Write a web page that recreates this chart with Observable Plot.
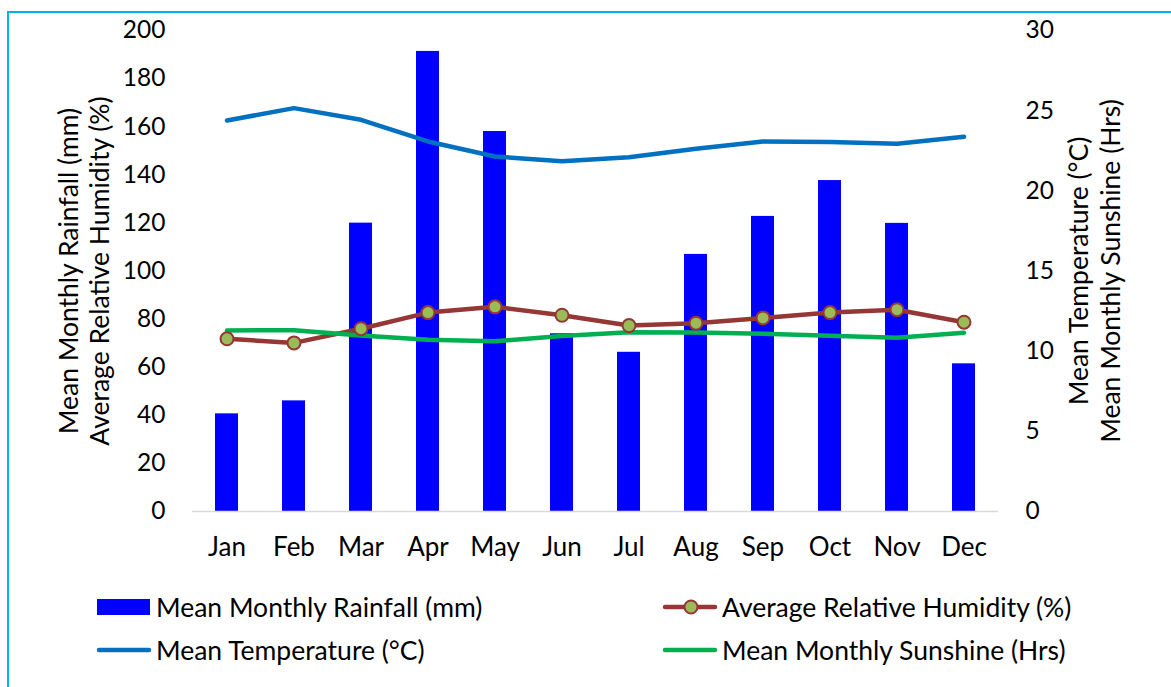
<!DOCTYPE html>
<html>
<head>
<meta charset="utf-8">
<script src="https://cdn.jsdelivr.net/npm/d3@7"></script>
<script src="https://cdn.jsdelivr.net/npm/@observablehq/plot@0.6"></script>
<style>
  html, body { margin: 0; padding: 0; background: #fff; }
  body { width: 1171px; height: 687px; position: relative; overflow: hidden; font-family: Lato, "Open Sans", sans-serif; }
  #frame { position: absolute; left: 7px; top: 11px; width: 1180px; height: 700px; border-top: 2px solid #00B0F0; border-left: 2px solid #00B0F0; box-sizing: border-box; }
  #chart { position: absolute; left: 0; top: 0; }
  .leg { position: absolute; display: flex; align-items: center; font-size: 26.5px; color: #000; white-space: nowrap; }
  .leg svg { margin-right: 3px; }
</style>
</head>
<body>
<div id="frame"></div>
<div id="chart"></div>
<div id="legend"></div>
<script>
const months = ["Jan","Feb","Mar","Apr","May","Jun","Jul","Aug","Sep","Oct","Nov","Dec"];
const rainfall = [40.6, 46.0, 119.9, 191.3, 158.0, 73.9, 66.2, 106.9, 122.7, 137.6, 119.8, 61.4];
const humidity = [71.8, 70.1, 76.0, 82.7, 85.1, 81.6, 77.3, 78.3, 80.5, 82.7, 83.9, 78.7];
const temperature = [24.39, 25.16, 24.43, 23.08, 22.14, 21.85, 22.10, 22.62, 23.08, 23.04, 22.93, 23.37];
const sunshine = [11.29, 11.31, 10.98, 10.71, 10.62, 10.94, 11.18, 11.16, 11.08, 10.96, 10.83, 11.15];
const leftTicks = [0, 20, 40, 60, 80, 100, 120, 140, 160, 180, 200];
const rightTicks = [0, 5, 10, 15, 20, 25, 30];
const leftLabels = ["Mean Monthly Rainfall (mm)", "Average Relative Humidity (%)"];
const rightLabels = ["Mean Temperature (°C)", "Mean Monthly Sunshine (Hrs)"];
const seriesNames = ["Mean Monthly Rainfall (mm)", "Average Relative Humidity (%)", "Mean Temperature (°C)", "Mean Monthly Sunshine (Hrs)"];

const leftMax = 200, rightMax = 30;
const k = leftMax / rightMax;

const rows = months.map((m, i) => ({
  month: m,
  rain: rainfall[i],
  hum: humidity[i],
  temp: temperature[i] * k,
  sun: sunshine[i] * k
}));

const C = { rain: "#0000FF", hum: "#953735", marker: "#9BBB59", temp: "#0070C0", sun: "#00B050" };
const labelFont = 26.5;

const chart = Plot.plot({
  width: 1171,
  height: 575,
  marginLeft: 192,
  marginRight: 173,
  marginTop: 30,
  marginBottom: 64,
  style: { fontFamily: "Lato, 'Open Sans', sans-serif", fontSize: "24px", color: "#000", background: "transparent", overflow: "visible" },
  x: { type: "band", domain: months, paddingInner: 0.66, paddingOuter: 0.33, label: null },
  y: { domain: [0, leftMax], label: null },
  marks: [
    Plot.barY(rows, { x: "month", y: "rain", fill: C.rain }),
    Plot.ruleY([0], { stroke: "#D9D9D9", strokeWidth: 1.5 }),
    Plot.line(rows, { x: "month", y: "hum", stroke: C.hum, strokeWidth: 4.5, strokeLinejoin: "round", strokeLinecap: "round" }),
    Plot.line(rows, { x: "month", y: "temp", stroke: C.temp, strokeWidth: 4.5, strokeLinejoin: "round", strokeLinecap: "round" }),
    Plot.line(rows, { x: "month", y: "sun", stroke: C.sun, strokeWidth: 4.5, strokeLinejoin: "round", strokeLinecap: "round" }),
    Plot.dot(rows, { x: "month", y: "hum", r: 6.5, fill: C.marker, stroke: C.hum, strokeWidth: 2 }),
    Plot.axisX({ tickSize: 0, tickPadding: 26, label: null, fontSize: 26 }),
    Plot.axisY({ anchor: "left", ticks: leftTicks, tickSize: 0, tickPadding: 27, label: null, fontSize: 24.5 }),
    Plot.axisY(rightTicks.map(t => t * k), { anchor: "right", tickSize: 0, tickPadding: 27, tickFormat: d => String(Math.round(d / k)), label: null, fontSize: 24.5 }),
    Plot.text([leftLabels[0]], { frameAnchor: "left", dx: -123, rotate: -90, textAnchor: "middle", text: d => d, fill: "#000", fontSize: labelFont }),
    Plot.text([leftLabels[1]], { frameAnchor: "left", dx: -92, rotate: -90, textAnchor: "middle", text: d => d, fill: "#000", fontSize: labelFont }),
    Plot.text([rightLabels[0]], { frameAnchor: "right", dx: 81, rotate: -90, textAnchor: "middle", text: d => d, fill: "#000", fontSize: labelFont }),
    Plot.text([rightLabels[1]], { frameAnchor: "right", dx: 113, rotate: -90, textAnchor: "middle", text: d => d, fill: "#000", fontSize: labelFont })
  ]
});
document.getElementById("chart").appendChild(chart);

// Legend (HTML below the chart)
const legend = document.getElementById("legend");
const items = [
  { name: seriesNames[0], left: 96, top: 607, kind: "bar", color: C.rain },
  { name: seriesNames[1], left: 662, top: 607, kind: "marker", color: C.hum },
  { name: seriesNames[2], left: 96, top: 650, kind: "line", color: C.temp },
  { name: seriesNames[3], left: 662, top: 650, kind: "line", color: C.sun }
];
items.forEach(it => {
  const d = document.createElement("div");
  d.className = "leg";
  d.style.left = it.left + "px";
  d.style.top = (it.top - 17) + "px";
  d.style.height = "34px";
  let sw = "";
  if (it.kind === "bar") {
    sw = `<svg width="57" height="34"><rect x="1" y="9" width="53" height="16" fill="${it.color}"/></svg>`;
  } else if (it.kind === "line") {
    sw = `<svg width="57" height="34"><line x1="3" y1="17" x2="53" y2="17" stroke="${it.color}" stroke-width="4.5" stroke-linecap="round"/></svg>`;
  } else {
    sw = `<svg width="57" height="34"><line x1="3" y1="17" x2="53" y2="17" stroke="${it.color}" stroke-width="4.5" stroke-linecap="round"/><circle cx="29" cy="17" r="6.5" fill="${C.marker}" stroke="${it.color}" stroke-width="2"/></svg>`;
  }
  d.innerHTML = sw + `<span>${it.name}</span>`;
  legend.appendChild(d);
});
</script>
</body>
</html>
